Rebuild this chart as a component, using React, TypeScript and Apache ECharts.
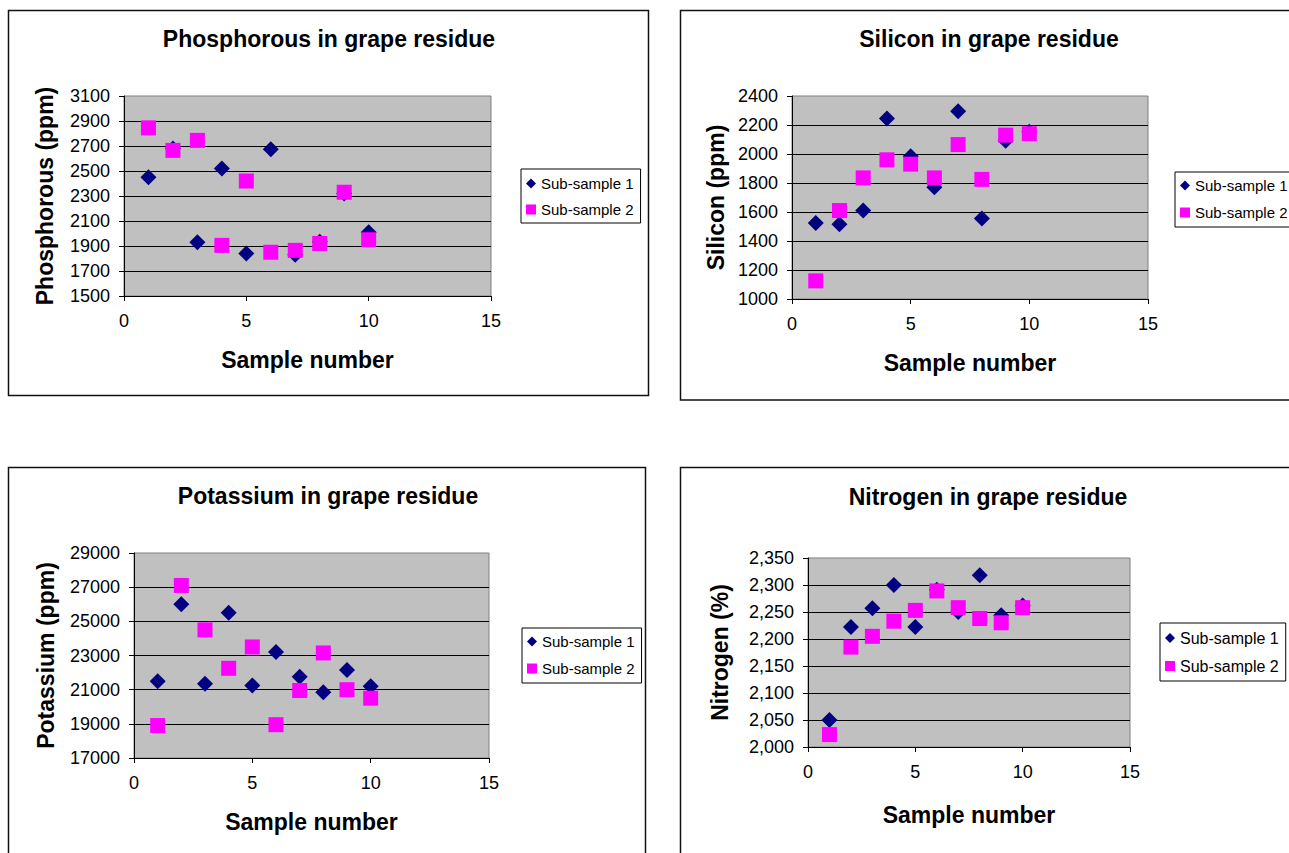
import React, { useEffect, useRef } from "react";
import * as echarts from "echarts";

// ---- Data ----
const sampleNumbers = [1, 2, 3, 4, 5, 6, 7, 8, 9, 10];
const seriesNames = ["Sub-sample 1", "Sub-sample 2"];

const phosphorus1 = [2450, 2680, 1930, 2520, 1840, 2675, 1830, 1935, 2320, 2010];
const phosphorus2 = [2845, 2665, 2745, 1905, 2420, 1850, 1865, 1920, 2330, 1950];

const silicon1 = [1525, 1515, 1610, 2245, 1985, 1770, 2295, 1555, 2092, 2154];
const silicon2 = [1125, 1610, 1835, 1960, 1930, 1835, 2065, 1825, 2130, 2140];

const potassium1 = [21500, 26000, 21350, 25500, 21250, 23200, 21750, 20850, 22150, 21200];
const potassium2 = [18900, 27100, 24500, 22250, 23500, 18950, 20950, 23150, 21000, 20500];

const nitrogen1 = [2.05, 2.222, 2.257, 2.3, 2.222, 2.291, 2.25, 2.318, 2.244, 2.262];
const nitrogen2 = [2.023, 2.185, 2.205, 2.233, 2.253, 2.289, 2.258, 2.238, 2.23, 2.258];

const titles = [
  "Phosphorous in grape residue",
  "Silicon in grape residue",
  "Potassium in grape residue",
  "Nitrogen in grape residue",
];
const yNames = ["Phosphorous (ppm)", "Silicon (ppm)", "Potassium (ppm)", "Nitrogen (%)"];
const xName = "Sample number";
const yRanges = [
  { min: 1500, max: 3100, interval: 200 },
  { min: 1000, max: 2400, interval: 200 },
  { min: 17000, max: 29000, interval: 2000 },
  { min: 2.0, max: 2.35, interval: 0.05 },
];
const xRange = { min: 0, max: 15, interval: 5 };

const FONT = "'Liberation Sans', Arial, Helvetica, sans-serif";
const NAVY = "#000080";
const MAGENTA = "#FF00FF";

// ---- Layout ----
const grids = [
  { left: 124, top: 96, width: 367, height: 200 },
  { left: 792, top: 96, width: 356, height: 203 },
  { left: 134, top: 553, width: 355, height: 205 },
  { left: 808, top: 558, width: 322, height: 189 },
];
const titlePos = [
  { x: 329, y: 27 },
  { x: 989, y: 27 },
  { x: 328, y: 484 },
  { x: 988, y: 485 },
];
const yNameGap = [68, 65, 77, 77];
const xNameGap = [52, 52, 52, 56];
const legendPos = [
  { left: 521, top: 169, padding: [7, 7, 6, 5], gap: 11, font: 15 },
  { left: 1175, top: 172, padding: [6, 7, 7, 5], gap: 12, font: 15 },
  { left: 522, top: 628, padding: [6, 7, 7, 5], gap: 12, font: 15 },
  { left: 1160, top: 623, padding: [7, 7, 7, 5], gap: 12, font: 16 },
];
const panels = [
  { x: 8.5, y: 10.5, w: 640, h: 385 },
  { x: 680.5, y: 10.5, w: 640, h: 389.5 },
  { x: 8.5, y: 467.5, w: 637, h: 420 },
  { x: 680.5, y: 467.5, w: 640, h: 420 },
];

const data1 = [phosphorus1, silicon1, potassium1, nitrogen1];
const data2 = [phosphorus2, silicon2, potassium2, nitrogen2];

export default function App() {
  const ref = useRef<HTMLDivElement>(null);

  useEffect(() => {
    if (!ref.current) return;
    const chart = echarts.init(ref.current, null, { renderer: "svg" });

    const option: any = {
      animation: false,
      backgroundColor: "#ffffff",
      title: titles.map((t, i) => ({
        text: t,
        left: titlePos[i].x,
        top: titlePos[i].y,
        textAlign: "center",
        padding: 0,
        textStyle: { fontFamily: FONT, fontWeight: "bold", fontSize: 23, color: "#000" },
      })),
      graphic: panels.map((p) => ({
        type: "rect",
        shape: { x: p.x, y: p.y, width: p.w, height: p.h },
        style: { fill: "none", stroke: "#111", lineWidth: 1.5 },
        silent: true,
        z: -1,
      })),
      legend: legendPos.map((l) => ({
        orient: "vertical",
        left: l.left,
        top: l.top,
        padding: l.padding,
        itemGap: l.gap,
        itemWidth: 10,
        itemHeight: 10,
        borderColor: "#000",
        borderWidth: 1,
        backgroundColor: "#fff",
        selectedMode: false,
        textStyle: { fontFamily: FONT, fontSize: l.font, color: "#000" },
        itemStyle: { opacity: 1 },
        data: [
          { name: seriesNames[0], icon: "diamond" },
          { name: seriesNames[1], icon: "rect" },
        ],
      })),
      grid: grids.map((g) => ({
        ...g,
        show: true,
        backgroundColor: "#C0C0C0",
        borderColor: "#808080",
        borderWidth: 1,
        containLabel: false,
      })),
      xAxis: grids.map((_, i) => ({
        type: "value",
        gridIndex: i,
        min: xRange.min,
        max: xRange.max,
        interval: xRange.interval,
        name: xName,
        nameLocation: "middle",
        nameGap: xNameGap[i],
        nameTextStyle: { fontFamily: FONT, fontWeight: "bold", fontSize: 23, color: "#000" },
        axisLine: { show: true, lineStyle: { color: "#000", width: 1 } },
        axisTick: { show: true, inside: false, length: 5, lineStyle: { color: "#000" } },
        axisLabel: { fontFamily: FONT, fontSize: 18, color: "#000", margin: 16 },
        splitLine: { show: false },
      })),
      yAxis: grids.map((_, i) => ({
        type: "value",
        gridIndex: i,
        min: yRanges[i].min,
        max: yRanges[i].max,
        interval: yRanges[i].interval,
        name: yNames[i],
        nameLocation: "middle",
        nameGap: yNameGap[i],
        nameTextStyle: { fontFamily: FONT, fontWeight: "bold", fontSize: 23, color: "#000" },
        axisLine: { show: true, lineStyle: { color: "#000", width: 1 } },
        axisTick: { show: true, inside: false, length: 5, lineStyle: { color: "#000" } },
        axisLabel: {
          fontFamily: FONT,
          fontSize: 18,
          color: "#000",
          margin: 14,
          formatter:
            i === 3
              ? (v: number) => v.toFixed(3).replace(".", ",")
              : (v: number) => String(v),
        },
        splitLine: { show: true, showMaxLine: false, lineStyle: { color: "#000", width: 1 } },
      })),
      series: grids.flatMap((_, i) => [
        {
          name: seriesNames[0],
          type: "scatter",
          xAxisIndex: i,
          yAxisIndex: i,
          symbol: "diamond",
          symbolSize: 16,
          itemStyle: { color: NAVY, opacity: 1 },
          data: sampleNumbers.map((x, k) => [x, data1[i][k]]),
          z: 2,
        },
        {
          name: seriesNames[1],
          type: "scatter",
          xAxisIndex: i,
          yAxisIndex: i,
          symbol: "rect",
          symbolSize: 15,
          itemStyle: { color: MAGENTA, opacity: 1 },
          data: sampleNumbers.map((x, k) => [x, data2[i][k]]),
          z: 3,
        },
      ]),
    };

    chart.setOption(option);
    return () => chart.dispose();
  }, []);

  return (
    <div
      ref={ref}
      style={{ position: "absolute", left: 0, top: 0, width: 1289, height: 853 }}
    />
  );
}
